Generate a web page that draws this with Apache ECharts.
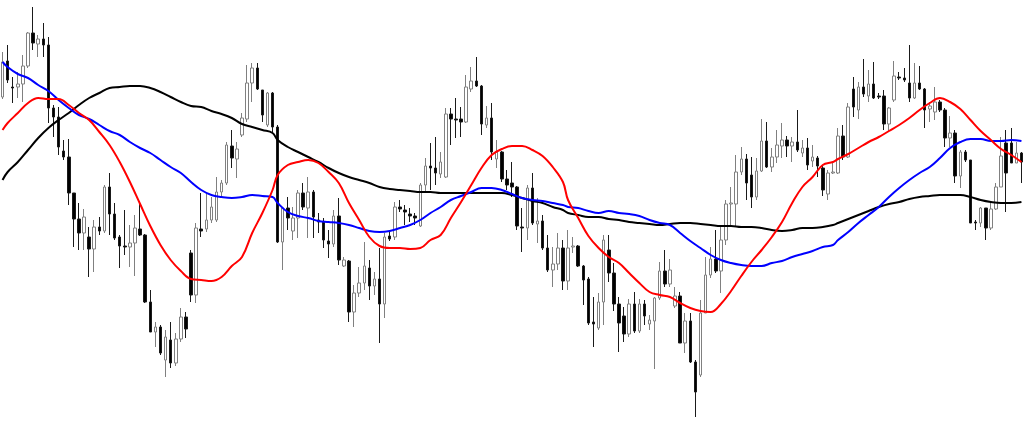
<!DOCTYPE html>
<html><head><meta charset="utf-8">
<script src="https://cdn.jsdelivr.net/npm/echarts@6/dist/echarts.min.js"></script>
<style>html,body{margin:0;padding:0;background:#fff}#c{width:1024px;height:424px}</style>
</head><body><div id="c"></div>
<script>
// candles: [open, close, low, high]
const candles = [
[327,362,325,372],[363,344,341,379],[337,336,321,347],[337,340,326,352],[340,358,322,369],
[358,391,356,392],[391,381,374,417],[380,385,367,389],[385,379,367,401],[379,316,301,387],
[316,307,287,319],[307,277,269,317],[273,267,264,284],[267,231,219,285],[231,205,177,231],
[205,191,174,221],[191,207,174,215],[187,175,147,197],[175,197,152,204],[197,193,189,207],
[193,237,191,239],[237,210,189,251],[210,186,184,221],[187,178,156,189],[178,177,169,214],
[177,181,157,199],[181,196,148,209],[195,189,188,221],[189,122,121,190],[122,92,92,134],
[92,97,77,102],[97,71,69,99],[64,87,47,94],[84,61,56,102],[61,85,58,91],
[85,107,82,116],[107,95,86,112],[171,129,122,174],[129,196,121,201],[195,193,187,231],
[195,204,192,231],[204,217,201,227],[204,232,202,247],[232,241,227,244],[241,279,239,282],
[278,266,256,294],[265,275,246,282],[289,306,287,311],[305,341,302,359],[341,356,322,361],
[356,335,334,361],[334,309,302,334],[299,331,297,332],[331,297,292,332],[297,182,181,299],
[182,216,154,217],[216,206,194,227],[193,206,184,217],[206,231,186,234],[231,217,214,241],
[216,232,186,247],[232,207,186,234],[204,202,191,211],[202,184,176,206],[183,180,166,194],
[180,208,177,214],[208,164,159,226],[158,164,157,167],[163,112,102,164],[112,131,97,139],
[131,141,127,157],[141,158,134,182],[156,138,124,164],[138,145,129,152],[145,120,81,176],
[120,187,106,191],[188,185,183,194],[187,217,184,222],[217,215,212,224],[214,212,199,219],
[210,208,202,216],[208,206,199,211],[198,239,197,241],[239,258,232,266],[258,256,234,281],
[256,251,239,287],[250,262,246,272],[247,310,246,316],[310,305,279,316],[305,304,286,326],
[305,302,287,317],[302,337,301,349],[335,343,332,357],[343,338,337,367],[338,300,289,339],
[299,306,296,318],[306,272,264,321],[265,272,256,284],[272,245,242,273],[245,239,234,254],
[241,237,227,262],[237,198,194,238],[197,196,172,216],[196,236,184,239],[236,201,199,251],
[200,203,181,226],[203,176,174,209],[176,154,152,189],[154,160,137,177],[160,176,154,191],
[176,143,134,184],[143,176,134,194],[177,178,171,187],[178,158,157,179],[158,144,119,159],
[145,101,99,147],[102,100,77,127],[96,122,94,131],[122,184,99,189],[174,151,142,189],
[151,120,113,161],[120,101,72,127],[108,90,82,117],[90,120,87,125],[120,93,91,132],
[93,120,91,125],[120,108,99,124],[100,104,94,109],[103,126,55,127],[126,153,124,162],
[153,140,137,174],[140,154,137,165],[118,128,116,137],[128,81,81,132],[81,103,71,111],
[103,62,61,111],[62,32,7,64],[49,111,47,124],[111,149,111,167],[149,165,146,177],
[165,153,151,194],[153,184,131,199],[184,220,179,224],[220,221,199,237],[220,252,197,269],
[252,265,249,277],[265,241,224,270],[249,227,216,267],[227,253,224,266],[253,283,252,305],
[283,257,256,302],[257,267,252,276],[267,279,261,294],[278,284,266,301],[284,278,267,288],
[278,282,262,287],[282,274,272,314],[271,276,267,284],[276,259,254,286],[263,267,257,279],
[266,258,247,268],[256,234,228,258],[230,251,224,254],[251,252,250,261],[251,288,250,296],
[288,267,264,299],[267,317,266,321],[335,317,307,347],[314,337,305,342],[337,330,327,365],
[328,340,322,354],[340,326,325,362],[328,327,325,331],[328,300,294,334],[300,316,292,317],
[324,348,322,363],[347,346,344,352],[346,344,342,356],[341,326,322,379],[326,341,325,361],
[341,335,334,358],[335,314,296,336],[315,318,302,322],[312,322,304,337],[322,314,312,324],
[314,286,277,316],[286,291,277,308],[291,248,241,294],[248,272,236,274],[272,264,262,274],
[264,201,201,264],[202,201,194,204],[201,216,197,217],[216,196,184,216],[196,215,194,221],
[215,237,214,241],[237,268,237,287],[281,251,212,294],[281,261,261,296],[261,271,261,282],
[271,262,241,272]
];

// moving-average readings, taken at these candle indexes
const maIdx = [
0,1,3,5,7,9,11,13,15,17, 19,21,23,25,27,29,31,33,35,37,
39,41,43,45,47,49,51,53,54,56, 58,60,62,64,66,68,70,72,74,76,
78,80,82,84,86,88,90,92,94,96, 98,100,102,104,106,108,110,111,113,115,
117,119,121,123,125,127,129,131,133,135, 137,139,141,143,145,147,149,151,153,155,
157,159,161,163,164,166,168,170,172,174, 176,178,180,182,184,186,188,190,192,194,
196,198,200];

const maRed = [
294,301,311,321,326,325,325,319,311,304, 292,279,262,242,220,198,179,164,153,145,
144,143,147,158,167,191,211,234,249,259, 262,264,261,252,241,221,204,187,178,176,
176,175,176,184,189,206,222,239,256,269, 275,278,278,274,268,257,242,224,206,188,
176,167,161,151,141,132,129,127,121,116, 113,112,120,133,148,162,174,187,202,221,
237,247,259,262,265,270,276,282,287,293, 299,306,314,321,326,322,315,304,293,284,
275,269,262];

const maBlue = [
362,357,350,346,339,333,324,316,309,305, 299,293,289,282,276,271,264,257,251,242,
234,229,227,226,227,229,228,227,221,212, 208,206,203,202,201,199,196,193,192,193,
196,199,204,211,217,224,228,232,236,236, 234,230,226,224,223,221,219,217,216,213,
211,213,211,210,208,204,201,199,191,183, 176,169,164,161,159,158,158,161,163,167,
170,173,177,179,184,192,201,209,217,227, 236,244,251,257,266,276,282,285,285,283,
283,284,283];

const maBlack = [
244,252,262,274,286,296,304,311,319,326, 331,336,337,338,338,336,332,327,322,318,
317,313,310,306,300,297,294,291,284,277, 272,267,262,256,251,247,244,241,237,235,
234,233,232,232,231,231,231,231,231,231, 231,229,226,223,221,217,214,211,209,207,
207,205,204,202,201,200,199,200,201,201, 200,199,198,198,197,197,196,194,193,194,
196,196,197,199,201,205,209,213,217,220, 222,225,227,228,229,229,229,227,224,222,
221,221,222];

const categories = candles.map((_, i) => String(i + 1));
const pairs = vals => maIdx.map((idx, k) => [idx, vals[k]]);

const chart = echarts.init(document.getElementById('c'), null, {renderer: 'canvas'});
const lineStyle = c => ({color: c, width: 2});
chart.setOption({
  animation: false,
  backgroundColor: '#ffffff',
  grid: {left: 0, right: 0, top: 0, bottom: 0},
  xAxis: {type: 'category', data: categories, boundaryGap: true, show: false},
  yAxis: {type: 'value', min: 0, max: 424, show: false, splitLine: {show: false}},
  series: [
    {type: 'candlestick', data: candles, barWidth: 3, z: 2,
     itemStyle: {color: '#ffffff', color0: '#000000', borderColor: '#808080', borderColor0: '#1a1a1a', borderWidth: 1}},
    {type: 'line', data: pairs(maBlack), smooth: 0.4, showSymbol: false, z: 3, lineStyle: lineStyle('#000000'), itemStyle: {color: '#000'}},
    {type: 'line', data: pairs(maBlue), smooth: 0.4, showSymbol: false, z: 4, lineStyle: lineStyle('#0000ff'), itemStyle: {color: '#00f'}},
    {type: 'line', data: pairs(maRed), smooth: 0.4, showSymbol: false, z: 5, lineStyle: lineStyle('#ff0000'), itemStyle: {color: '#f00'}}
  ]
});
</script>
</body></html>
